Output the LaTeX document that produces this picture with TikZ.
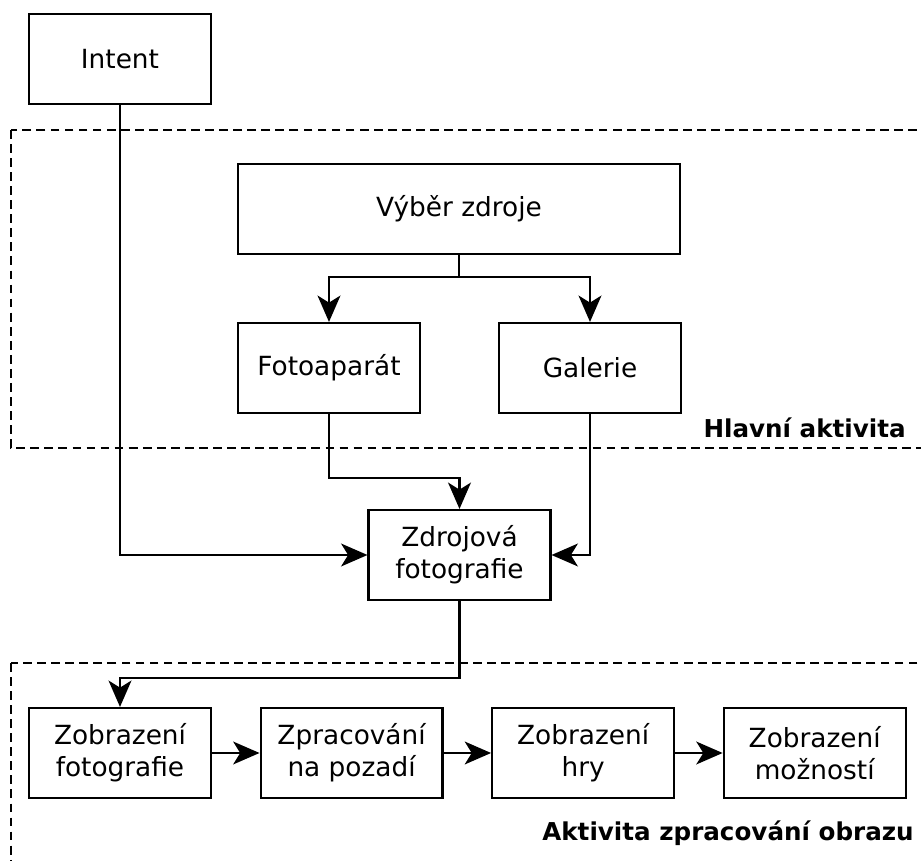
\documentclass[tikz,border=0pt]{standalone}
\usepackage{fontspec}
\setmainfont{DejaVu Sans}
\usetikzlibrary{arrows.meta,positioning}

\tikzset{
 box/.style={draw, line width=1.2pt, minimum width=3.64cm, minimum height=1.8cm, align=center, font=\fontsize{15}{18.3}\selectfont},
 group/.style={draw, line width=1.2pt, dash pattern=on 5pt off 3pt},
 grouplabel/.style={anchor=east, inner sep=0pt, font=\fontsize{14}{17}\selectfont\bfseries},
 link/.style={line width=1.2pt, -{Stealth[length=15pt,width=13pt,inset=4pt]}},
}

\begin{document}
\begin{tikzpicture}[x=0.02cm,y=-0.02cm]
 \clip (0,0) rectangle (921,861);
 % groups
 \draw[group] (11,130) rectangle (940,448);
 \draw[group] (11,663) rectangle (940,890);
 \node[grouplabel] (hlavni) at (906,428) {Hlavní aktivita};
 \node[grouplabel] (zpracovani) at (914,833) {Aktivita zpracování obrazu};

 % nodes
 \node[box] (intent) at (120,59) {Intent};
 \node[box, minimum width=8.84cm] (vyber) at (459,209) {Výběr zdroje};
 \node[box] (foto) at (329,368) {Fotoaparát};
 \node[box] (galerie) at (590,368) {Galerie};
 \node[box] (zdroj) at (459.5,555) {Zdrojová\\fotografie};
 \node[box] (zobrfoto) at (120,753) {Zobrazení\\fotografie};
 \node[box, right=0.95cm of zobrfoto] (pozadi) {Zpracování\\na pozadí};
 \node[box, right=0.95cm of pozadi] (hra) {Zobrazení\\hry};
 \node[box, right=0.95cm of hra] (moznosti) {Zobrazení\\možností};

 % connectors
 \draw[link] (vyber.south) -- ++(0,22) -| (foto.north);
 \draw[link] (vyber.south) -- ++(0,22) -| (galerie.north);
 \draw[link] (foto.south) -- ++(0,64) -| (zdroj.north);
 \draw[link] (galerie.south) |- (zdroj.east);
 \draw[link] (intent.south) |- (zdroj.west);
 \draw[link] (zdroj.south) -- ++(0,77) -| (zobrfoto.north);
 \draw[link] (zobrfoto) -- (pozadi);
 \draw[link] (pozadi) -- (hra);
 \draw[link] (hra) -- (moznosti);
\end{tikzpicture}
\end{document}
